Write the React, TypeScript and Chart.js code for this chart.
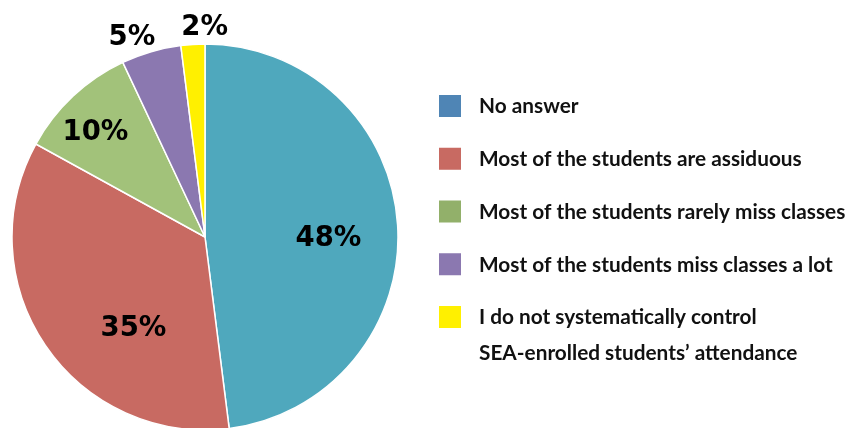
import React, { useEffect, useRef } from "react";
import { Chart, registerables } from "chart.js";

Chart.register(...registerables);

const categories = [
  "No answer",
  "Most of the students are assiduous",
  "Most of the students rarely miss classes",
  "Most of the students miss classes a lot",
  "I do not systematically control|SEA-enrolled students’ attendance",
];
const shares = [48, 35, 10, 5, 2];
const valueLabels = ["48%", "35%", "10%", "5%", "2%"];
const sliceColors = ["#4FA8BD", "#C86A62", "#A2C27A", "#8B78B0", "#FFF000"];
const legendColors = ["#4F85B5", "#C86A62", "#92B06A", "#8B78B0", "#FFF000"];
// label placement: fraction of radius, and angular shift (degrees) from slice middle
const labelRadius = [0.64, 0.593, 0.794, 1.113, 1.098];
const labelShift = [3.1, -17.1, -2.4, -3.7, 3.5];

const pctLabelPlugin = {
  id: "pctLabels",
  afterDatasetsDraw(chart: any) {
    const ctx = chart.ctx;
    const meta = chart.getDatasetMeta(0);
    const size = 27.5;
    ctx.save();
    ctx.font = `bold ${size}px "DejaVu Sans"`;
    ctx.fillStyle = "#000";
    ctx.textAlign = "center";
    ctx.textBaseline = "alphabetic";
    meta.data.forEach((arc: any, i: number) => {
      const p = arc.getProps(["x", "y", "startAngle", "endAngle", "outerRadius"], true);
      const a = (p.startAngle + p.endAngle) / 2 + (labelShift[i] * Math.PI) / 180;
      const d = p.outerRadius * labelRadius[i];
      const x = p.x + Math.cos(a) * d;
      const y = p.y + Math.sin(a) * d;
      ctx.fillText(valueLabels[i], x, y + size * 0.729 / 2);
    });
    ctx.restore();
  },
};

const legendPlugin = {
  id: "customLegend",
  afterDraw(chart: any) {
    const ctx = chart.ctx;
    const boxX = 439;
    const box = 22;
    const textX = 479;
    const firstY = 106;
    const step = 52.75;
    const lineGap = 36;
    const fs = 20.8;
    ctx.save();
    ctx.font = `bold ${fs}px Lato`;
    ctx.textAlign = "left";
    ctx.textBaseline = "alphabetic";
    categories.forEach((c, i) => {
      const cy = firstY + i * step;
      ctx.fillStyle = legendColors[i];
      ctx.fillRect(boxX, cy - box / 2, box, box);
      ctx.fillStyle = "#111";
      c.split("|").forEach((line, j) => {
        ctx.fillText(line, textX, cy + j * lineGap + fs * 0.72 / 2);
      });
    });
    ctx.restore();
  },
};

export default function App() {
  const ref = useRef<HTMLCanvasElement | null>(null);
  useEffect(() => {
    if (!ref.current) return;
    const chart = new Chart(ref.current, {
      type: "pie",
      data: {
        labels: categories.map((c) => c.replace("|", " ")),
        datasets: [
          {
            data: shares,
            backgroundColor: sliceColors,
            borderColor: "#FFFFFF",
            borderWidth: 1.5,
            radius: 193,
          } as any,
        ],
      },
      options: {
        animation: false,
        responsive: true,
        maintainAspectRatio: false,
        layout: { padding: { left: 12, right: 452, top: 46, bottom: 0 } },
        plugins: {
          legend: { display: false },
          tooltip: { enabled: false },
        },
      },
      plugins: [pctLabelPlugin, legendPlugin],
    });
    return () => chart.destroy();
  }, []);
  return (
    <div style={{ position: "fixed", left: 0, top: 0, width: 850, height: 428, background: "#fff" }}>
      <canvas ref={ref} />
    </div>
  );
}
